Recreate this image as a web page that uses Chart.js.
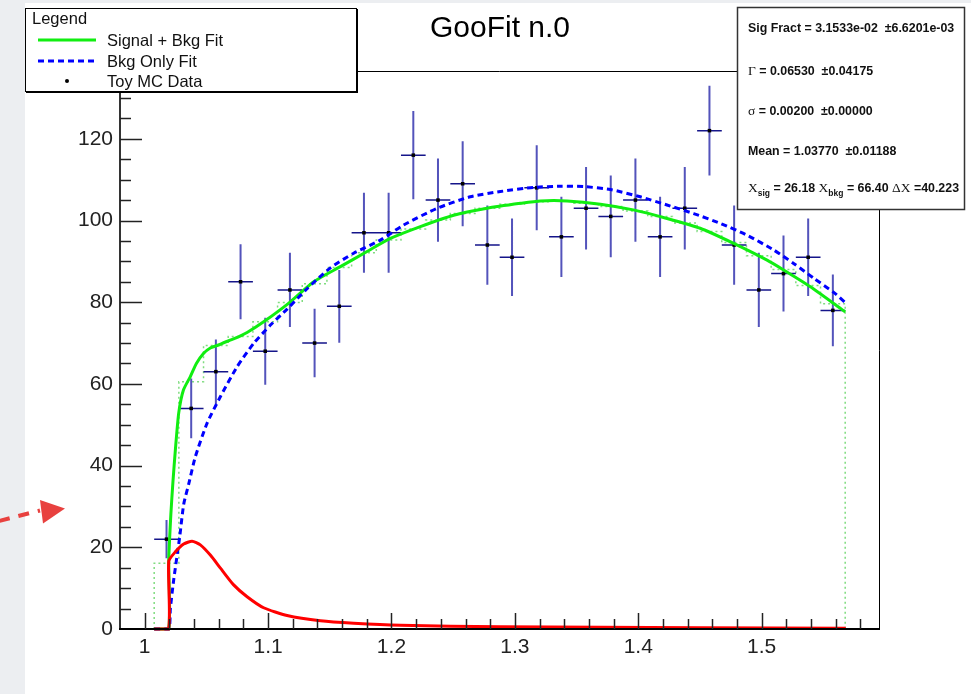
<!DOCTYPE html>
<html>
<head>
<meta charset="utf-8">
<script src="https://cdn.jsdelivr.net/npm/chart.js@4.4.1/dist/chart.umd.min.js"></script>
<style>
  html, body { margin: 0; padding: 0; background: #fff; }
  canvas { display: block; }
</style>
</head>
<body>
<canvas id="fitChart" width="971" height="694"></canvas>
<script>
// Toy MC histogram (bin centres, counts, stat errors)
const binCenters = [1.0177, 1.0377, 1.0577, 1.0777, 1.0977, 1.1177, 1.1377, 1.1577, 1.1777, 1.1977,
                    1.2177, 1.2377, 1.2577, 1.2777, 1.2977, 1.3177, 1.3377, 1.3577, 1.3777, 1.3977,
                    1.4177, 1.4377, 1.4577, 1.4777, 1.4977, 1.5177, 1.5377, 1.5577];
const counts = [22, 54, 63, 85, 68, 83, 70, 79, 97, 97,
                116, 105, 109, 94, 91, 108, 96, 103, 101, 105,
                96, 103, 122, 94, 83, 87, 91, 78];
const countErr = [4.7, 7.3, 7.9, 9.2, 8.2, 9.1, 8.4, 8.9, 9.8, 9.8,
                  10.8, 10.2, 10.4, 9.7, 9.5, 10.4, 9.8, 10.1, 10.0, 10.2,
                  9.8, 10.1, 11.0, 9.7, 9.1, 9.3, 9.5, 8.8];
const binHalfWidth = 0.01;

// fit evaluated per bin (dotted green histogram)
const histFit = [16.1, 60.5, 69.4, 71.6, 75.2, 79.9, 84.5, 88.5, 92.1, 95.2,
                 97.9, 100.1, 101.7, 103.0, 104.0, 104.6, 104.8, 104.2, 103.4, 102.3,
                 101.0, 99.4, 97.3, 94.6, 91.4, 88.0, 84.1, 79.6];

// Signal + Bkg fit curve
const sigBkgX = [1.0077, 1.0194, 1.0195, 1.0212, 1.0229, 1.0249, 1.0276, 1.0314, 1.0370, 1.0419,
                 1.0478, 1.0532, 1.0587, 1.0650, 1.0720, 1.0830, 1.0964, 1.1181, 1.1370, 1.1586, 1.1802,
                 1.1991, 1.2234, 1.2504, 1.2775, 1.3045, 1.3207, 1.3423, 1.3693, 1.3960, 1.4233,
                 1.4502, 1.4773, 1.5044, 1.5178, 1.5395, 1.5584, 1.5677];
const sigBkgY = [0, 0, 16.6, 28, 36, 44, 52.9, 58.5, 61.8, 65,
                 67.5, 68.8, 69.4, 70.2, 71.0, 72.6, 75.2, 80.1, 85.0, 88.7, 92.4,
                 95.6, 98.5, 101.3, 103.0, 104.2, 104.8, 104.8, 104.0, 102.6, 100.5,
                 98.1, 94.4, 90.3, 87.9, 83.8, 79.7, 77.6];

// Bkg only fit curve
const bkgX = [1.0077, 1.0194, 1.0208, 1.0235, 1.0284, 1.0316, 1.0357, 1.0411, 1.0506, 1.0614,
              1.0749, 1.0883, 1.1019, 1.1154, 1.1316, 1.1505, 1.1694, 1.1910, 1.2099, 1.2370,
              1.2639, 1.2883, 1.3152, 1.3369, 1.3558, 1.3774, 1.4017, 1.4233, 1.4449, 1.4665,
              1.4882, 1.5097, 1.5259, 1.5421, 1.5584, 1.5682];
const bkgY = [0, 0, 5, 12, 22.6, 30.5, 35.5, 42.2, 50.4, 56.9,
              64.2, 69.9, 74.4, 78.3, 83.3, 88.4, 92.0, 95.2, 98.9, 103.0,
              105.8, 107.1, 108.1, 108.4, 108.3, 107.6, 105.8, 103.8, 101.7, 99.3,
              96.4, 92.8, 89.5, 85.9, 82.4, 79.8];

// Signal component
const sigX = [1.0077, 1.0194, 1.0195, 1.0249, 1.0316, 1.0384, 1.0451, 1.0532, 1.0614, 1.0721,
              1.0830, 1.0964, 1.1154, 1.1424, 1.1694, 1.2072, 1.2883, 1.3693, 1.4503, 1.5682];
const sigY = [0, 0, 16.6, 18.9, 20.8, 21.5, 20.6, 18.1, 14.9, 10.8,
              7.9, 5.2, 3.3, 2.0, 1.4, 0.9, 0.55, 0.4, 0.3, 0.2];

const xLabelTicks = [1, 1.1, 1.2, 1.3, 1.4, 1.5];
const yLabelTicks = [0, 20, 40, 60, 80, 100, 120];

const pts = (xs, ys) => xs.map((x, i) => ({x: x, y: ys[i]}));

// step histogram through the bin edges
const histPts = [{x: binCenters[0] - binHalfWidth, y: 0}];
binCenters.forEach((c, i) => histPts.push({x: c - binHalfWidth, y: histFit[i]}));
const lastEdge = binCenters[binCenters.length - 1] + binHalfWidth;
histPts.push({x: lastEdge, y: histFit[histFit.length - 1]}, {x: lastEdge, y: 0});

// error bars as broken line segments
const errYPts = [], errXPts = [];
binCenters.forEach((c, i) => {
    errYPts.push({x: c, y: counts[i] - countErr[i]}, {x: c, y: counts[i] + countErr[i]}, {x: c, y: null});
    errXPts.push({x: c - binHalfWidth, y: counts[i]}, {x: c + binHalfWidth, y: counts[i]}, {x: c, y: null});
});

const SANS = '"Liberation Sans", Arial, Helvetica, sans-serif';
const SERIF = '"Liberation Serif", "Times New Roman", serif';

function runs(ctx, x, y, parts) {
    parts.forEach(p => {
        ctx.font = p.f;
        ctx.fillText(p.t, x, y + (p.dy || 0));
        x += ctx.measureText(p.t).width;
    });
}

// ROOT-style frame, inward ticks, legend, stats box, title
const rootDecor = {
    id: 'rootDecor',
    beforeDraw(chart) {
        const ctx = chart.ctx;
        ctx.save();
        ctx.fillStyle = '#eceef1';
        ctx.fillRect(0, 0, chart.width, chart.height);
        ctx.fillStyle = '#ffffff';
        ctx.fillRect(25, 3, chart.width - 25, chart.height - 3);
        ctx.restore();
    },
    afterDraw(chart) {
        const ctx = chart.ctx, a = chart.chartArea;
        const xs = chart.scales.x, ys = chart.scales.y;
        ctx.save();

        // frame
        ctx.strokeStyle = '#000';
        ctx.lineWidth = 1;
        ctx.beginPath();
        ctx.moveTo(a.left, a.top + 0.5); ctx.lineTo(a.right + 0.5, a.top + 0.5);
        ctx.lineTo(a.right + 0.5, a.bottom);
        ctx.stroke();
        ctx.lineWidth = 2;
        ctx.strokeStyle = '#333';
        ctx.beginPath(); ctx.moveTo(a.left, a.top); ctx.lineTo(a.left, a.bottom + 1); ctx.stroke();
        ctx.strokeStyle = '#000';
        ctx.beginPath(); ctx.moveTo(a.left - 1, a.bottom); ctx.lineTo(a.right + 1, a.bottom); ctx.stroke();

        // y ticks
        ctx.lineWidth = 1.5;
        ctx.strokeStyle = '#222';
        for (let v = 5; v < ys.max; v += 5) {
            const py = Math.round(ys.getPixelForValue(v)) + 0.5;
            const len = v % 20 === 0 ? 22 : 11;
            ctx.beginPath(); ctx.moveTo(a.left, py); ctx.lineTo(a.left + len, py); ctx.stroke();
        }
        // x ticks
        for (let k = 1; k <= 30; k++) {
            const n = 98 + 2 * k;
            const v = n / 100;
            if (v >= xs.max) break;
            const px = Math.round(xs.getPixelForValue(v)) + 0.5;
            const len = n % 10 === 0 ? 16 : 10;
            ctx.beginPath(); ctx.moveTo(px, a.bottom); ctx.lineTo(px, a.bottom - len); ctx.stroke();
        }

        // title
        ctx.fillStyle = '#000';
        ctx.font = '30px ' + SANS;
        ctx.textAlign = 'center';
        ctx.fillText('GooFit n.0', 500, 37);
        ctx.textAlign = 'left';

        // legend box
        ctx.fillStyle = '#fff';
        ctx.fillRect(25, 8, 332, 84);
        ctx.strokeStyle = '#000';
        ctx.lineWidth = 1;
        ctx.strokeRect(25.5, 8.5, 331, 83);
        ctx.lineWidth = 2;
        ctx.beginPath(); ctx.moveTo(26, 92); ctx.lineTo(357, 92); ctx.lineTo(357, 9); ctx.stroke();
        ctx.fillStyle = '#111';
        ctx.font = '16.5px ' + SANS;
        ctx.fillText('Legend', 32, 23.5);
        ctx.fillText('Signal + Bkg Fit', 107, 45.5);
        ctx.fillText('Bkg Only Fit', 107, 66.5);
        ctx.fillText('Toy MC Data', 107, 87);
        ctx.lineWidth = 3;
        ctx.strokeStyle = '#11ee11';
        ctx.beginPath(); ctx.moveTo(38, 40); ctx.lineTo(96, 40); ctx.stroke();
        ctx.strokeStyle = '#0000ff';
        ctx.setLineDash([6, 4]);
        ctx.beginPath(); ctx.moveTo(38, 61); ctx.lineTo(96, 61); ctx.stroke();
        ctx.setLineDash([]);
        ctx.fillStyle = '#000';
        ctx.beginPath(); ctx.arc(67, 81, 2, 0, Math.PI * 2); ctx.fill();

        // stats box
        ctx.fillStyle = '#fff';
        ctx.fillRect(737, 7, 228, 203);
        ctx.strokeStyle = '#333';
        ctx.lineWidth = 1.5;
        ctx.strokeRect(737.5, 7.5, 227, 202);
        ctx.fillStyle = '#111';
        const B = 'bold 12.4px ' + SANS, G = '13.5px ' + SERIF, S = 'bold 8.5px ' + SANS;
        runs(ctx, 748, 31.5, [{t: 'Sig Fract = 3.1533e-02  \u00b16.6201e-03', f: B}]);
        runs(ctx, 748, 75, [{t: '\u0393', f: G}, {t: ' = 0.06530  \u00b10.04175', f: B}]);
        runs(ctx, 748, 114.5, [{t: '\u03c3', f: G}, {t: ' = 0.00200  \u00b10.00000', f: B}]);
        runs(ctx, 748, 155, [{t: 'Mean = 1.03770  \u00b10.01188', f: B}]);
        runs(ctx, 748, 192, [{t: 'X', f: G}, {t: 'sig', f: S, dy: 4}, {t: ' = 26.18 ', f: B},
                             {t: 'X', f: G}, {t: 'bkg', f: S, dy: 4}, {t: ' = 66.40 ', f: B},
                             {t: '\u0394X', f: G}, {t: ' =40.223', f: B}]);

        // slide annotation arrow
        ctx.strokeStyle = '#e8413f';
        ctx.fillStyle = '#e8413f';
        ctx.lineWidth = 4;
        ctx.setLineDash([11, 9]);
        ctx.beginPath(); ctx.moveTo(-1, 521); ctx.lineTo(40, 510.5); ctx.stroke();
        ctx.setLineDash([]);
        ctx.beginPath(); ctx.moveTo(40, 500); ctx.lineTo(65, 508.5); ctx.lineTo(43, 523.5); ctx.closePath(); ctx.fill();

        ctx.restore();
    }
};

new Chart(document.getElementById('fitChart'), {
    type: 'line',
    data: {
        datasets: [
            {   // dotted fit histogram
                data: histPts, stepped: true, borderColor: '#7fdc7f', borderWidth: 1.5,
                borderDash: [2, 3], pointRadius: 0, order: 9
            },
            {   // vertical error bars
                data: errYPts, borderColor: 'rgba(40,40,170,0.8)', borderWidth: 2,
                pointRadius: 0, spanGaps: false, order: 8
            },
            {   // horizontal error bars
                data: errXPts, borderColor: '#15158a', borderWidth: 1.5,
                pointRadius: 0, spanGaps: false, order: 7
            },
            {   // data points
                data: pts(binCenters, counts), showLine: false, pointStyle: 'rect',
                pointRadius: 2.5, pointBackgroundColor: '#000', pointBorderWidth: 0, order: 6
            },
            {
                label: 'Signal + Bkg Fit', data: pts(sigBkgX, sigBkgY), borderColor: '#11ee11',
                borderWidth: 3, pointRadius: 0, tension: 0.2, order: 3, clip: 4
            },
            {
                label: 'Bkg Only Fit', data: pts(bkgX, bkgY), borderColor: '#0000ff', borderDash: [6, 4],
                borderWidth: 3, pointRadius: 0, tension: 0.2, order: 2, clip: 4
            },
            {
                label: 'Signal', data: pts(sigX, sigY), borderColor: '#ff0000',
                borderWidth: 3, pointRadius: 0, tension: 0.2, order: 1, clip: 4
            }
        ]
    },
    options: {
        responsive: false,
        animation: false,
        devicePixelRatio: 1,
        layout: { padding: { left: 0, top: 71, right: 92, bottom: 0 } },
        plugins: { legend: { display: false }, tooltip: { enabled: false } },
        scales: {
            x: {
                type: 'linear', min: 0.98, max: 1.5951,
                afterFit: s => { s.height = 65; },
                afterBuildTicks: s => { s.ticks = xLabelTicks.map(v => ({value: v})); },
                grid: { display: false, drawTicks: false },
                border: { display: false },
                ticks: { font: { family: SANS, size: 21 }, color: '#222', padding: 6,
                         maxRotation: 0, autoSkip: false, callback: v => String(v) }
            },
            y: {
                type: 'linear', min: 0, max: 136.6,
                afterFit: s => { s.width = 120; },
                afterBuildTicks: s => { s.ticks = yLabelTicks.map(v => ({value: v})); },
                grid: { display: false, drawTicks: false },
                border: { display: false },
                ticks: { font: { family: SANS, size: 21 }, color: '#222', padding: 7,
                         autoSkip: false, callback: v => String(v) }
            }
        }
    },
    plugins: [rootDecor]
});
</script>
</body>
</html>
